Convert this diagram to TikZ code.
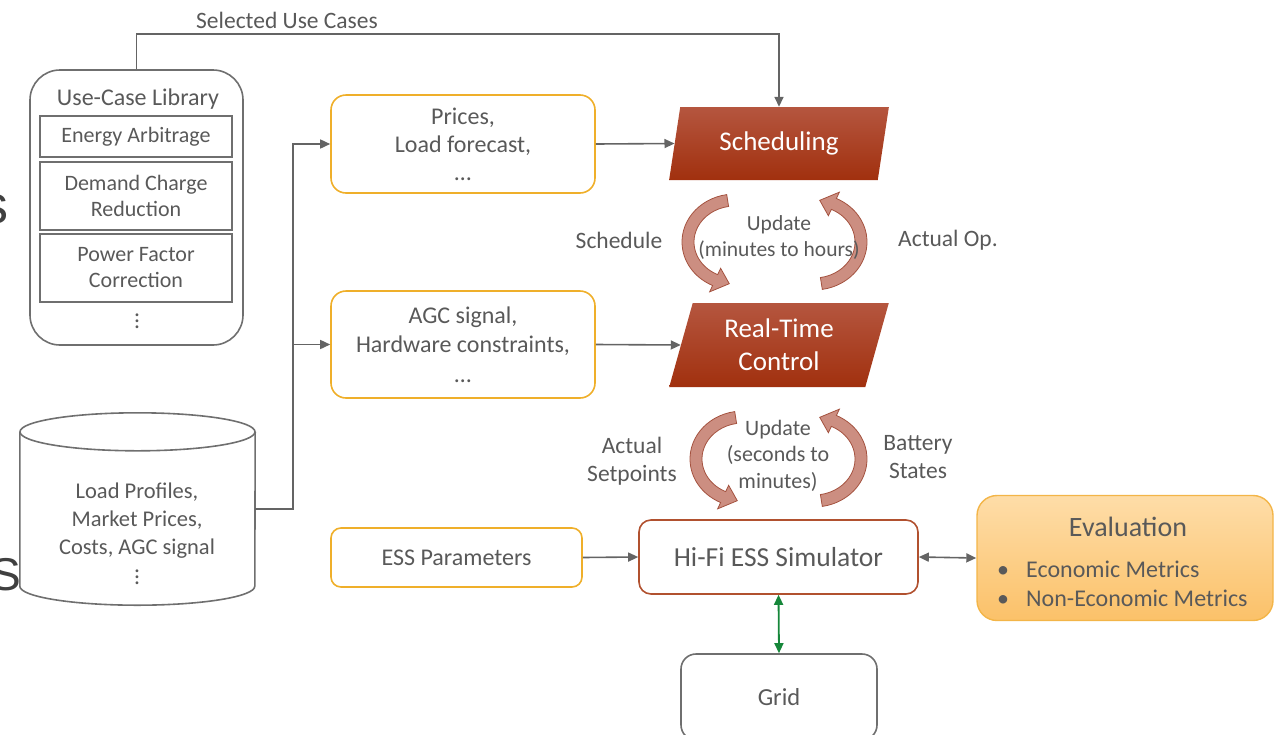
\documentclass[tikz,border=0pt]{standalone}
\usepackage{fontspec}
\setmainfont{Carlito}
\newfontfamily\edgefont{Liberation Sans}
\usetikzlibrary{arrows.meta,shapes.geometric,calc}

\definecolor{ink}{HTML}{595959}
\definecolor{wire}{HTML}{646464}
\definecolor{frame}{HTML}{6F6F6F}
\definecolor{gold}{HTML}{EFAF2A}
\definecolor{rustA}{HTML}{B5563F}
\definecolor{rustB}{HTML}{A1300E}
\definecolor{rustline}{HTML}{B1512F}
\definecolor{evalA}{HTML}{FEDDA8}
\definecolor{evalB}{HTML}{FBC169}
\definecolor{evalline}{HTML}{F3B548}
\definecolor{loopfill}{HTML}{BF7262}
\definecolor{loopline}{HTML}{A4523F}
\definecolor{gridgreen}{HTML}{16873A}
\definecolor{edgeink}{HTML}{404040}

\newcommand{\fs}[2]{\fontsize{#1}{#2}\selectfont}
\newcommand{\dotcol}{\vbox{\baselineskip6pt\lineskiplimit0pt\hbox{.}\hbox{.}\hbox{.}}}

% curved block arrow of the update loops, drawn around the local origin
\newcommand{\cyclearrow}{%
  \filldraw[looparrow] (261:53 and 48)
    arc[start angle=261, end angle=115, x radius=53, y radius=48]
    -- (115:60 and 55) -- (97:47 and 42) -- (115:34 and 29) -- (115:41 and 36)
    arc[start angle=115, end angle=261, x radius=41, y radius=36] -- cycle;}

\begin{document}
\begin{tikzpicture}[x=1pt, y=-1pt,
  txt/.style={text=ink, align=center, inner sep=0pt, font=\fs{23.5}{28}},
  conn/.style={draw=wire, line width=1.6pt, -{Triangle[length=10pt, width=9pt]}},
  biconn/.style={draw=wire, line width=1.6pt, {Triangle[length=10pt, width=9pt]}-{Triangle[length=10pt, width=9pt]}},
  gridconn/.style={draw=gridgreen, line width=1.8pt, {Triangle[length=10pt, width=9pt]}-{Triangle[length=10pt, width=9pt]}},
  libbox/.style={draw=frame, line width=1.6pt, rounded corners=30pt, minimum width=213pt, minimum height=275pt, inner sep=0pt},
  casebox/.style={draw=frame, line width=1.6pt, minimum width=192pt, text=ink, align=center, inner sep=0pt, font=\fs{22}{26}},
  inbox/.style={draw=gold, line width=1.6pt, rounded corners=15pt, minimum width=264pt, text=ink, align=center, inner sep=0pt, font=\fs{24}{28}},
  stage/.style={trapezium, trapezium left angle=74, trapezium right angle=106, trapezium stretches=true,
    minimum width=220pt, minimum height=73pt, inner sep=0pt, top color=rustA, bottom color=rustB,
    text=white, align=center, font=\fs{27}{33}},
  simbox/.style={draw=rustline, line width=1.6pt, rounded corners=12pt, minimum width=279pt, minimum height=74pt,
    text=ink, inner sep=0pt, font=\fs{27.5}{30}},
  evalbox/.style={draw=evalline, line width=1.4pt, rounded corners=20pt, minimum width=296pt, minimum height=125pt,
    top color=evalA, bottom color=evalB, inner sep=0pt},
  gridbox/.style={draw=frame, line width=1.6pt, rounded corners=15pt, minimum width=196pt, minimum height=86pt,
    text=ink, inner sep=0pt, font=\fs{24.5}{28}},
  looparrow/.style={fill=loopfill, fill opacity=0.8, draw=loopline, line width=0.8pt}
]
\useasboundingbox (0,0) rectangle (1274,734);

% cut-off lettering at the left border
\begin{scope}
  \clip (0,0) rectangle (1274,734);
  \node[font=\edgefont\fs{54}{54}, text=edgeink, anchor=base east, inner sep=0pt] (cuta) at (9,223) {s};
  \node[font=\edgefont\fs{46}{46}, text=edgeink, anchor=base east, inner sep=0pt] (cutb) at (21,590) {S};
\end{scope}

% use-case library
\node[libbox] (lib) at (136.5,207.5) {};
\node[txt, font=\fs{24}{26}] (libtitle) at (138,99.5) {Use-Case Library};
\node[casebox, minimum height=41pt] (case1) at (136,136.5) {Energy Arbitrage};
\node[casebox, minimum height=68pt] (case2) at (136,196) {Demand Charge\\Reduction};
\node[casebox, minimum height=68pt] (case3) at (136,268) {Power Factor\\Correction};
\node[txt] (casedots) at (137,321) {\dotcol};

% data store
\node[minimum width=235pt, minimum height=154pt, inner sep=0pt] (db) at (137.5,509) {};
\draw[draw=frame, line width=1.6pt] (db.north west) -- (db.south west)
  arc[start angle=180, end angle=0, x radius=117.5, y radius=19] -- (db.north east);
\draw[draw=frame, line width=1.6pt] (db.north) ellipse[x radius=117.5, y radius=19];
\node[txt, font=\fs{22.5}{28}] (dbtext) at (137,521) {Load Profiles,\\Market Prices,\\Costs, AGC signal};
\node[txt] (dbdots) at (137,577) {\dotcol};

% inputs
\node[inbox, minimum height=98pt] (prices) at (463,144) {Prices,\\Load forecast,\\…};
\node[inbox, minimum height=107pt, font=\fs{24}{29.5}] (agc) at (463,344.5) {AGC signal,\\Hardware constraints,\\…};
\node[inbox, minimum width=251pt, minimum height=59pt, rounded corners=10pt] (esspar) at (456.5,557.5) {ESS Parameters};

% control stages
\node[stage] (sch) at (779,143.5) {\raisebox{-3pt}{Scheduling}};
\node[stage, minimum height=84pt] (rtc) at (779,345) {Real-Time\\Control};

% simulator, evaluation, grid
\node[simbox] (sim) at (778.5,557) {Hi-Fi ESS Simulator};
\node[evalbox] (eval) at (1125,558) {};
\node[txt, font=\fs{28}{30}] (evaltitle) at (1128,527) {Evaluation};
\node[txt, font=\fs{24}{29}, align=left, anchor=west] (evallist) at (997,584)
  {•\hspace{17pt}Economic Metrics\\•\hspace{17pt}Non-Economic Metrics};
\node[gridbox] (grid) at (779,697) {Grid};

% update loops
\begin{scope}[shift={(735,242)}] \cyclearrow \end{scope}
\begin{scope}[shift={(814,242)}, rotate=180] \cyclearrow \end{scope}
\begin{scope}[shift={(743,459)}] \cyclearrow \end{scope}
\begin{scope}[shift={(814,459)}, rotate=180] \cyclearrow \end{scope}

\node[txt, font=\fs{21.5}{26}] (upd1) at (779,238) {Update\\(minutes to hours)};
\node[txt] (lsched) at (619,240) {Schedule};
\node[txt] (lactop) at (948,240) {Actual Op.};
\node[txt, font=\fs{22}{26.5}] (upd2) at (778,455.5) {Update\\(seconds to\\minutes)};
\node[txt] (lsetp) at (632,461) {Actual\\Setpoints};
\node[txt] (lbatt) at (918,457) {Battery\\States};

% connectors
\node[txt] (lselected) at (287,20) {Selected Use Cases};
\draw[conn] (lib.north) -- ++(0,-35) -| (sch.center |- sch.north);
\coordinate (trunk) at (293,509);
\draw[conn] (db.east) -- (trunk) |- (prices.west);
\draw[conn] (trunk |- agc.west) -- (agc.west);
\draw[conn] (prices.east) -- (sch.west);
\draw[conn] (agc.east) -- (rtc.west);
\draw[conn] (esspar.east) -- (sim.west);
\draw[biconn] (sim.east) -- (eval.west);
\draw[gridconn] (sim.south) -- (grid.north);
\end{tikzpicture}
\end{document}
